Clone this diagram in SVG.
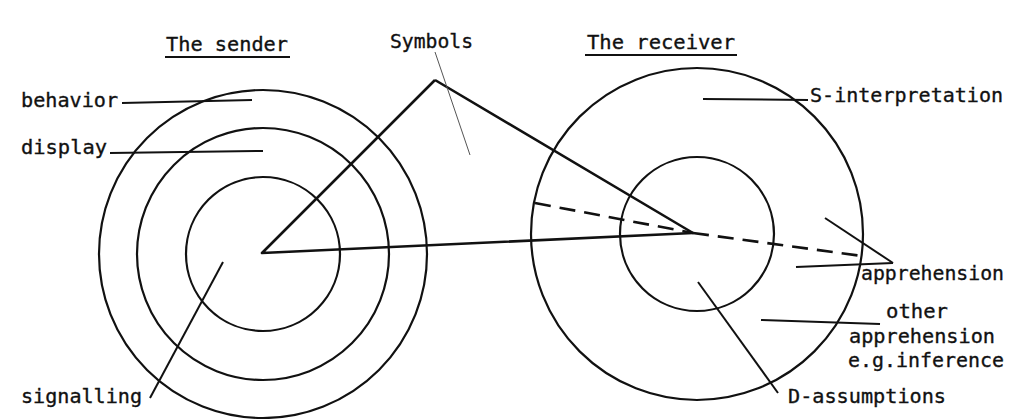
<svg xmlns="http://www.w3.org/2000/svg" width="1013" height="419" viewBox="0 0 1013 419">
<style>
text{font-family:"DejaVu Sans Mono","Liberation Mono",monospace;font-size:20px;fill:#111;stroke:#111;stroke-width:0.35}
.c{fill:none;stroke:#111;stroke-width:2.2}
.l{stroke:#111;stroke-width:2;fill:none}
.t{stroke:#111;stroke-width:2.6;fill:none;stroke-linejoin:round}
</style>
<rect width="1013" height="419" fill="#fff"/>
<g id="sender">
<circle class="c" cx="263" cy="254" r="164" stroke-width="1.7"/>
<circle class="c" cx="263" cy="254" r="126"/>
<circle class="c" cx="263" cy="254" r="77"/>
<text x="166" y="51" textLength="122" lengthAdjust="spacingAndGlyphs">The sender</text>
<line class="l" x1="165" y1="57" x2="290" y2="57"/>
</g>
<g id="receiver">
<circle class="c" cx="697" cy="234" r="166"/>
<circle class="c" cx="697" cy="234" r="77"/>
<text x="587" y="49" textLength="148" lengthAdjust="spacingAndGlyphs">The receiver</text>
<line class="l" x1="585" y1="55" x2="737" y2="55"/>
</g>
<g id="symbols">
<text x="390" y="48" textLength="83" lengthAdjust="spacingAndGlyphs">Symbols</text>
</g>
<g id="labels">
<text x="21" y="107" textLength="97" lengthAdjust="spacingAndGlyphs">behavior</text>
<text x="21" y="154" textLength="86" lengthAdjust="spacingAndGlyphs">display</text>
<text x="21" y="403" textLength="121" lengthAdjust="spacingAndGlyphs">signalling</text>
<text x="810" y="102" textLength="193" lengthAdjust="spacingAndGlyphs">S-interpretation</text>
<text x="861" y="280" textLength="143" lengthAdjust="spacingAndGlyphs">apprehension</text>
<text x="886" y="318" textLength="62" lengthAdjust="spacingAndGlyphs">other</text>
<text x="849" y="343" textLength="146" lengthAdjust="spacingAndGlyphs">apprehension</text>
<text x="848" y="367" textLength="156" lengthAdjust="spacingAndGlyphs">e.g.inference</text>
<text x="788" y="403" textLength="158" lengthAdjust="spacingAndGlyphs">D-assumptions</text>
</g>
<g id="connectors">
<polyline class="t" points="435,80 262,253 693,233 435,80"/>
<line class="t" x1="535" y1="203" x2="693" y2="233" stroke-dasharray="16,9"/>
<line class="t" x1="693" y1="233" x2="862" y2="256" stroke-dasharray="16,9"/>
<line x1="435" y1="52" x2="470" y2="155" stroke="#555" stroke-width="1"/>
<line class="l" x1="122" y1="103" x2="252" y2="100"/>
<line class="l" x1="110" y1="153" x2="263" y2="151"/>
<line class="l" x1="150" y1="398" x2="223" y2="262"/>
<line class="l" x1="703" y1="99" x2="808" y2="100"/>
<line class="l" x1="825" y1="218" x2="893" y2="263"/>
<line class="l" x1="796" y1="267" x2="893" y2="263"/>
<line class="l" x1="761" y1="320" x2="880" y2="324"/>
<line class="l" x1="698" y1="282" x2="778" y2="393"/>
</g>
</svg>
